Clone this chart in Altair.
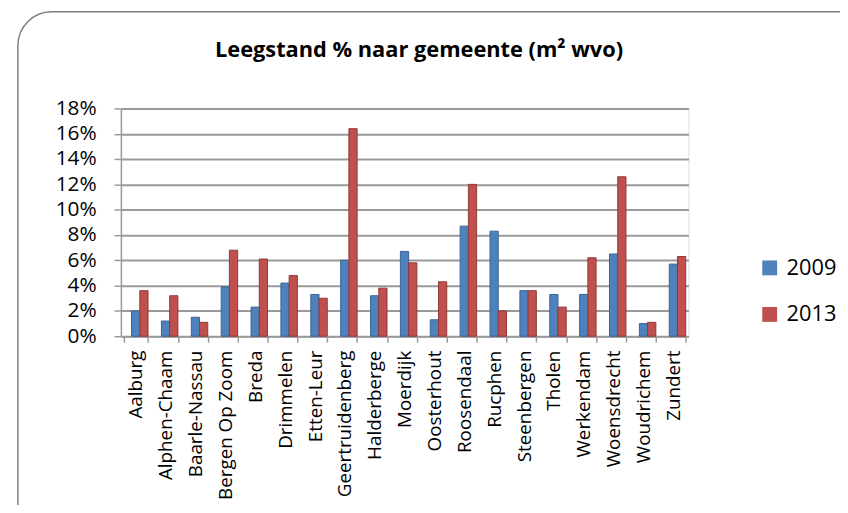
import altair as alt
import pandas as pd

gemeenten = ["Aalburg", "Alphen-Chaam", "Baarle-Nassau", "Bergen Op Zoom", "Breda",
             "Drimmelen", "Etten-Leur", "Geertruidenberg", "Halderberge", "Moerdijk",
             "Oosterhout", "Roosendaal", "Rucphen", "Steenbergen", "Tholen",
             "Werkendam", "Woensdrecht", "Woudrichem", "Zundert"]
v2009 = [2.0, 1.2, 1.5, 3.9, 2.3, 4.2, 3.3, 6.0, 3.2, 6.7, 1.3, 8.7, 8.3, 3.6, 3.3, 3.3, 6.5, 1.0, 5.7]
v2013 = [3.6, 3.2, 1.1, 6.8, 6.1, 4.8, 3.0, 16.4, 3.8, 5.8, 4.3, 12.0, 2.0, 3.6, 2.3, 6.2, 12.6, 1.1, 6.3]
years = ["2009", "2013"]
colors = ["#4F81BD", "#C0504D"]
edge_colors = ["#3A6394", "#8E3A38"]
title_text = "Leegstand % naar gemeente (m² wvo)"

rows = []
for g, a, b in zip(gemeenten, v2009, v2013):
    rows.append({"gemeente": g, "jaar": "2009", "waarde": a / 100})
    rows.append({"gemeente": g, "jaar": "2013", "waarde": b / 100})
df = pd.DataFrame(rows)

FONT = "Open Sans"
GRID = "#9a9a9a"

bars = alt.Chart(df).mark_bar(strokeWidth=1).encode(
    x=alt.X("gemeente:N", sort=gemeenten, title=None,
            scale=alt.Scale(paddingInner=0.184, paddingOuter=0.092),
            axis=alt.Axis(labelAngle=270, labelFontSize=19, labelFont=FONT, labelColor="black",
                          labelPadding=8, tickBand="extent", tickSize=6, tickColor=GRID,
                          domainColor=GRID, domainWidth=1.5, tickWidth=1.5, labelAlign="right",
                          labelBaseline="middle")),
    xOffset=alt.XOffset("jaar:N", sort=years,
                        scale=alt.Scale(paddingInner=0, paddingOuter=0.48, align=1)),
    y=alt.Y("waarde:Q", title=None,
            scale=alt.Scale(domain=[0, 0.18], nice=False),
            axis=alt.Axis(values=[i / 100 for i in range(0, 19, 2)], format=".0%",
                          labelFontSize=21, labelFont=FONT, labelColor="black",
                          labelPadding=18, tickSize=7, tickColor=GRID, tickWidth=1.5,
                          domainColor=GRID, domainWidth=1.5,
                          grid=True, gridColor=GRID, gridWidth=2)),
    color=alt.Color("jaar:N", sort=years,
                    scale=alt.Scale(domain=years, range=colors),
                    legend=alt.Legend(title=None, orient="none", legendX=644, legendY=150,
                                      symbolType="square", symbolSize=225, symbolStrokeWidth=0,
                                      labelFontSize=22, labelFont=FONT, labelColor="black",
                                      rowPadding=25, labelOffset=6)),
    stroke=alt.Stroke("jaar:N", sort=years,
                      scale=alt.Scale(domain=years, range=edge_colors), legend=None),
)

frame = alt.Chart(pd.DataFrame({"k": [0]})).mark_rect(
    filled=False, stroke="#7f7f7f", strokeWidth=1.5,
    cornerRadiusTopLeft=34, cornerRadiusBottomLeft=34
).encode(x=alt.value(-104), x2=alt.value(760), y=alt.value(-97.5), y2=alt.value(450))

title = alt.Chart(pd.DataFrame({"t": [title_text]})).mark_text(
    font=FONT, fontSize=22, fontWeight="bold", color="black", align="center", baseline="alphabetic"
).encode(text="t:N", x=alt.value(301), y=alt.value(-52))

chart = alt.layer(frame, bars, title).resolve_scale(color="independent", stroke="independent").properties(
    width=573, height=230,
    padding={"left": 114, "top": 99, "right": 153, "bottom": 168},
    autosize=alt.AutoSizeParams(type="none"),
).configure_view(stroke=None).configure(background="white")

chart.save("out.html", embed_options={"renderer": "svg", "actions": False})
